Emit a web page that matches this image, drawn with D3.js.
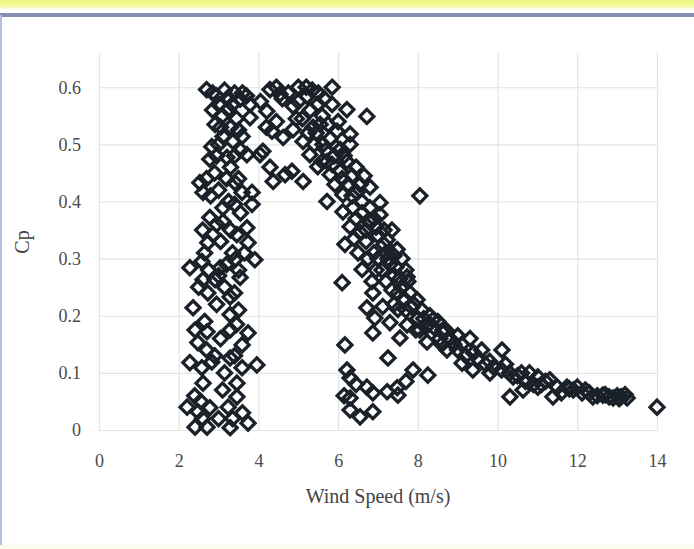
<!DOCTYPE html>
<html>
<head>
<meta charset="utf-8">
<script src="https://cdn.jsdelivr.net/npm/d3@7"></script>
<style>
  body{margin:0;background:#fff;}
  svg{display:block;}
</style>
</head>
<body>
<div id="chart"></div>
<script>
//data: [wind speed (m/s), Cp], grouped by region

var xTicks=[0,2,4,6,8,10,12,14];
var yTicks=[0,0.1,0.2,0.3,0.4,0.5,0.6];

// low wind band, 2-4 m/s
var lowBand=[[2.70,0.596],[2.95,0.585],[3.24,0.582],[3.54,0.579],[3.79,0.570],[3.24,0.561],[3.79,0.547],
  [2.91,0.535],[3.11,0.514],[3.59,0.514],[2.83,0.496],[3.36,0.505],[2.78,0.474],[3.21,0.477],[3.71,0.482],
  [4.04,0.482],[2.53,0.433],[2.61,0.416],[3.41,0.433],[3.59,0.416],[3.84,0.416],[3.11,0.389],[3.84,0.395],
  [2.78,0.372],[3.11,0.365],[3.71,0.354],[2.86,0.342],[3.46,0.342],[2.73,0.328],[3.74,0.328],
  [3.00,0.570],[3.40,0.590],[3.60,0.590],[3.10,0.550],[3.45,0.545],[2.85,0.560],[3.30,0.530],[3.00,0.500],
  [3.55,0.490],[2.90,0.450],[3.30,0.460],[3.50,0.440],[2.70,0.440],[3.00,0.420],[3.25,0.400],[3.55,0.380],
  [2.95,0.360],[3.30,0.350],[2.60,0.350],[3.65,0.310],[2.65,0.310],
  [2.28,0.284],[2.58,0.295],[3.04,0.284],[3.41,0.298],[3.91,0.298],[2.61,0.263],[2.91,0.263],[3.54,0.267],
  [2.73,0.240],[3.29,0.233],[2.36,0.214],[3.29,0.202],[2.41,0.175],[2.71,0.172],[3.29,0.175],[3.74,0.170],
  [2.48,0.153],[3.59,0.149],[2.28,0.118],[2.58,0.109],[2.83,0.119],[3.29,0.126],[3.59,0.109],[3.96,0.114],
  [2.61,0.082],[3.46,0.082],[2.21,0.040],[2.48,0.032],[2.78,0.039],[3.24,0.040],[2.41,0.005],[2.71,0.005],
  [3.29,0.004],[3.74,0.012],[3.46,0.058],[3.00,0.270],[3.15,0.250],[3.40,0.240],[2.50,0.250],[2.95,0.220],
  [3.50,0.210],[2.65,0.190],[3.05,0.160],[2.90,0.130],[3.15,0.100],[2.40,0.060],[3.10,0.070],[3.60,0.030],
  [2.60,0.020],[3.00,0.020],
  [2.85,0.590],[3.15,0.595],[3.70,0.585],[3.35,0.570],[3.05,0.530],[3.50,0.525],[2.95,0.480],[3.40,0.480],
  [3.20,0.440],[2.80,0.410],[3.40,0.395],[3.05,0.330],[3.35,0.310],[3.50,0.280],[3.20,0.290],[2.75,0.280],
  [3.45,0.185],[3.40,0.130],[2.70,0.140],[3.35,0.020],[2.55,0.050]];

// peak, 4-7 m/s
var peak=[[4.29,0.596],[4.54,0.588],[4.21,0.558],[4.87,0.567],[5.22,0.584],[5.49,0.570],[5.85,0.600],
  [5.85,0.570],[6.22,0.561],[6.72,0.549],[4.34,0.523],[4.62,0.512],[4.87,0.526],[5.12,0.505],[5.37,0.530],
  [5.62,0.500],[5.97,0.523],[6.30,0.518],[6.05,0.491],[6.30,0.500],[5.29,0.482],[5.72,0.470],[6.22,0.470],
  [4.11,0.488],[4.29,0.460],[4.67,0.447],[4.37,0.435],[4.84,0.453],[5.12,0.435],[5.49,0.461],[5.80,0.447],
  [6.05,0.453],[5.92,0.430],[6.25,0.430],[6.55,0.430],[5.72,0.400],[6.12,0.412],[6.47,0.416],[6.80,0.425],
  [6.37,0.389],[6.80,0.389],[4.60,0.580],[5.00,0.575],[5.30,0.560],[5.60,0.550],[5.10,0.545],[5.45,0.520],
  [5.75,0.535],[6.00,0.540],[5.60,0.470],[5.90,0.480],[4.45,0.540],[6.45,0.460],[6.60,0.400],[4.45,0.600],
  [5.00,0.600],[5.50,0.590],[5.20,0.600],
  [4.75,0.590],[5.35,0.595],[5.65,0.580],[5.55,0.535],[5.80,0.510],[5.95,0.495],[5.40,0.500],[5.70,0.490],
  [6.15,0.480],[6.35,0.445],[6.10,0.440],[5.85,0.465],[4.20,0.530],[4.05,0.575],[4.95,0.545],[5.25,0.520]];

// falling branch, 6-9 m/s
var fall=[[6.12,0.382],[6.30,0.356],[6.17,0.325],[6.60,0.281],[6.10,0.258],[6.87,0.240],[6.72,0.214],
  [6.92,0.196],[6.87,0.170],[7.12,0.216],[7.30,0.188],[7.50,0.211],[7.55,0.161],[7.73,0.184],[7.75,0.260],
  [7.98,0.228],[8.05,0.175],[8.23,0.154],[8.38,0.193],[8.63,0.170],[7.05,0.398],[7.05,0.377],[6.80,0.363],
  [6.55,0.346],[7.23,0.333],[7.48,0.316],[7.73,0.268],[8.05,0.410],[6.90,0.370],[7.00,0.340],[7.20,0.310],
  [7.30,0.290],[7.40,0.270],[7.00,0.300],[7.10,0.280],[7.60,0.250],[7.80,0.240],[7.90,0.220],[8.10,0.210],
  [8.30,0.200],[8.50,0.190],[8.70,0.175],[6.70,0.330],[6.90,0.310],[7.20,0.260],[7.50,0.240],[6.45,0.370],
  [6.70,0.350],[7.35,0.350],[7.60,0.300],[6.50,0.310],[6.85,0.260],[7.40,0.220],[7.70,0.210],[8.00,0.195],
  [8.20,0.180],
  [6.60,0.380],[6.95,0.355],[7.15,0.325],[7.25,0.300],[7.45,0.285],[7.55,0.265],[7.65,0.230],[7.85,0.215],
  [8.15,0.195],[8.40,0.180],[7.15,0.350],[7.40,0.305],[7.70,0.280],[6.95,0.280],[7.35,0.245],[6.75,0.300],
  [6.40,0.335],[6.35,0.410],[6.65,0.445],[8.55,0.160],[7.95,0.175],
  [6.17,0.149],[6.22,0.105],[6.30,0.091],[7.25,0.126],[6.72,0.075],[6.87,0.065],[7.48,0.074],[7.50,0.061],
  [7.88,0.105],[8.25,0.096],[6.30,0.056],[6.30,0.035],[6.55,0.023],[6.87,0.032],[7.23,0.067],[6.45,0.080],
  [7.70,0.085],[6.15,0.060]];

// high wind tail, 8.5-14 m/s
var tail=[[8.63,0.175],[8.73,0.140],[9.11,0.117],[9.31,0.160],[9.38,0.105],[9.81,0.100],[10.11,0.140],
  [10.31,0.058],[10.39,0.093],[10.64,0.070],[11.01,0.093],[11.01,0.075],[11.31,0.088],[11.39,0.058],
  [11.74,0.075],[12.12,0.065],[12.39,0.058],[12.64,0.061],[12.90,0.056],[13.25,0.056],[14.00,0.040],
  [8.80,0.160],[8.90,0.150],[9.00,0.140],[9.20,0.130],[9.50,0.125],[9.70,0.115],[9.90,0.110],[10.10,0.105],
  [10.30,0.100],[10.50,0.095],[10.70,0.085],[10.90,0.080],[11.10,0.080],[11.50,0.075],[11.90,0.070],
  [12.30,0.065],[12.70,0.062],[13.00,0.060],[13.10,0.058],[13.20,0.062],[9.60,0.140],[9.00,0.165],
  [8.60,0.150],[10.80,0.100],[11.60,0.065],[12.00,0.075],[12.50,0.060],
  [9.10,0.150],[9.40,0.135],[9.80,0.120],[10.20,0.115],[10.60,0.100],[11.20,0.085],[11.80,0.072],
  [12.20,0.070],[12.80,0.058],[13.05,0.055]];

var points=lowBand.concat(peak,fall,tail);

//setup svg
var W=694,H=549;
var svg=d3.select("#chart").append("svg")
          .attr("width",W)
          .attr("height",H)
          .style("font-family","'Liberation Serif','Times New Roman',serif");

svg.append("rect").attr("width",W).attr("height",H).attr("fill","#fff");

//frame bits from the page the chart was cut from
var grad=svg.append("defs").append("linearGradient").attr("id","topband")
            .attr("x1",0).attr("y1",0).attr("x2",0).attr("y2",1);
grad.append("stop").attr("offset","0%").attr("stop-color","#ecf57a");
grad.append("stop").attr("offset","60%").attr("stop-color","#f1f8a0");
grad.append("stop").attr("offset","100%").attr("stop-color","#ffffff");
svg.append("rect").attr("x",0).attr("y",0).attr("width",W).attr("height",10).attr("fill","url(#topband)");
svg.append("rect").attr("x",0).attr("y",13).attr("width",W).attr("height",4).attr("fill","#8491b0");
svg.append("rect").attr("x",0).attr("y",15).attr("width",2).attr("height",H-15).attr("fill","#b3c1dc");
svg.append("rect").attr("x",0).attr("y",H-4).attr("width",W).attr("height",4).attr("fill","#fbfdea");

//scales
var x=d3.scaleLinear().domain([0,14]).range([99,657]);
var y=d3.scaleLinear().domain([0,0.66]).range([430,53]);

//gridlines + tick labels
var yAxis=svg.append("g")
             .attr("transform","translate("+x(0)+",0)")
             .call(d3.axisLeft(y).tickValues(yTicks).tickSize(-(x(14)-x(0))).tickPadding(18)
                   .tickFormat(function(d){return d===0?"0":d3.format(".1f")(d)}));
var xAxis=svg.append("g")
             .attr("transform","translate(0,"+y(0)+")")
             .call(d3.axisBottom(x).tickValues(xTicks).tickSize(-(y(0)-y(0.66))).tickPadding(24));

[xAxis,yAxis].forEach(function(a){
  a.select(".domain").remove();
  a.selectAll("line").attr("stroke","#e3e3e3").attr("stroke-width",1.2);
  a.selectAll("text").attr("fill","#4a4a4a").style("font-size","18px").style("font-family","'Liberation Serif',serif");
});

//axis titles
svg.append("text")
   .attr("x",(x(0)+x(14))/2)
   .attr("y",503)
   .attr("text-anchor","middle")
   .attr("fill","#444")
   .style("font-size","20px")
   .text("Wind Speed (m/s)");

svg.append("text")
   .attr("transform","translate(29,242) rotate(-90)")
   .attr("text-anchor","middle")
   .attr("fill","#444")
   .style("font-size","20px")
   .text("Cp");

//markers
var r=7;
svg.append("g").selectAll("path")
   .data(points)
   .enter()
   .append("path")
   .attr("transform",function(d){return "translate("+x(d[0])+","+y(d[1])+")"})
   .attr("d","M0,"+(-r)+"L"+r+",0L0,"+r+"L"+(-r)+",0Z")
   .attr("fill","none")
   .attr("stroke","#1b2129")
   .attr("stroke-width",3.3);
</script>
</body>
</html>
